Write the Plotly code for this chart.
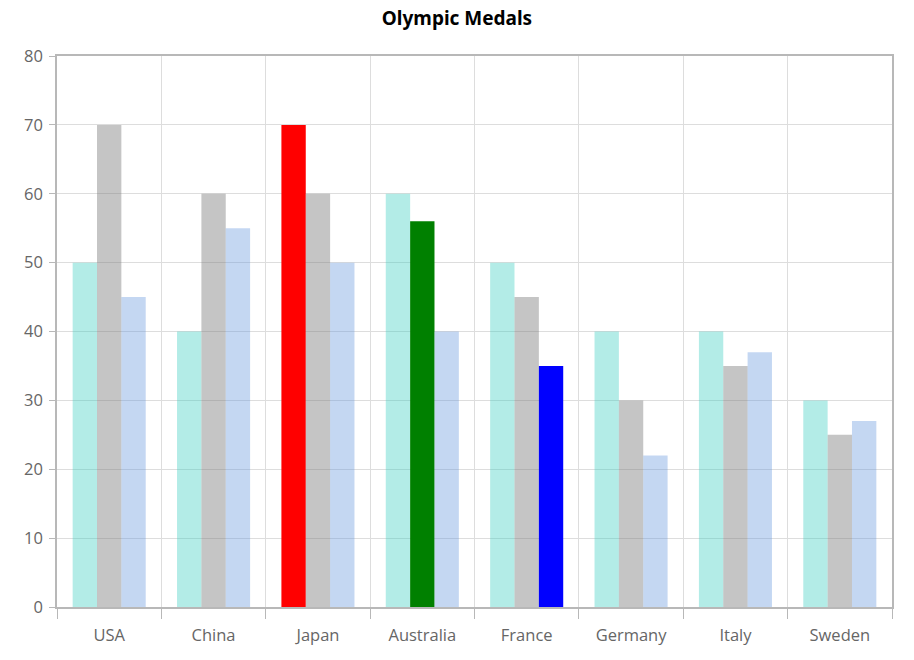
import plotly.graph_objects as go

countries = ["USA", "China", "Japan", "Australia", "France", "Germany", "Italy", "Sweden"]
series_a = [50, 40, 70, 60, 50, 40, 40, 30]
series_b = [70, 60, 60, 56, 45, 30, 35, 25]
series_c = [45, 55, 50, 40, 35, 22, 37, 27]

base_a = "rgba(64,208,196,0.4)"
base_b = "rgba(128,128,128,0.46)"
base_c = "rgba(100,150,220,0.38)"

colors_a = [base_a] * len(countries)
colors_b = [base_b] * len(countries)
colors_c = [base_c] * len(countries)
colors_a[2] = "red"
colors_b[3] = "green"
colors_c[4] = "blue"

fig = go.Figure()
for vals, cols in [(series_a, colors_a), (series_b, colors_b), (series_c, colors_c)]:
    fig.add_trace(go.Bar(x=countries, y=vals, marker=dict(color=cols, line=dict(width=0)),
                         hoverinfo="x+y"))

font_fam = "Open Sans, Noto Sans, sans-serif"
fig.update_layout(
    width=914, height=660,
    margin=dict(l=57, r=22, t=56, b=53),
    paper_bgcolor="white", plot_bgcolor="white",
    title=dict(text="<b>Olympic Medals</b>", x=0.5, xanchor="center", y=0.972, yanchor="middle",
               font=dict(family="Noto Sans, Open Sans, sans-serif", size=19, color="black")),
    showlegend=False,
    barmode="group", bargap=0.3, bargroupgap=0,
    xaxis=dict(tickson="boundaries", showgrid=True, gridcolor="#dddddd", gridwidth=1,
               showline=True, linecolor="#b8b8b8", linewidth=1.5, mirror=True,
               ticks="outside", ticklen=10, tickcolor="#b8b8b8", ticklabelstandoff=12,
               tickfont=dict(family=font_fam, size=16.5, color="#666666")),
    yaxis=dict(range=[0, 80], dtick=10, showgrid=True, gridcolor="#dddddd", gridwidth=1,
               showline=True, linecolor="#b8b8b8", linewidth=1.5, mirror=True,
               ticks="outside", ticklen=6, tickcolor="#b8b8b8", zeroline=False,
               ticklabelstandoff=3,
               tickfont=dict(family=font_fam, size=16.5, color="#666666")),
)

fig.write_html("out.html")
